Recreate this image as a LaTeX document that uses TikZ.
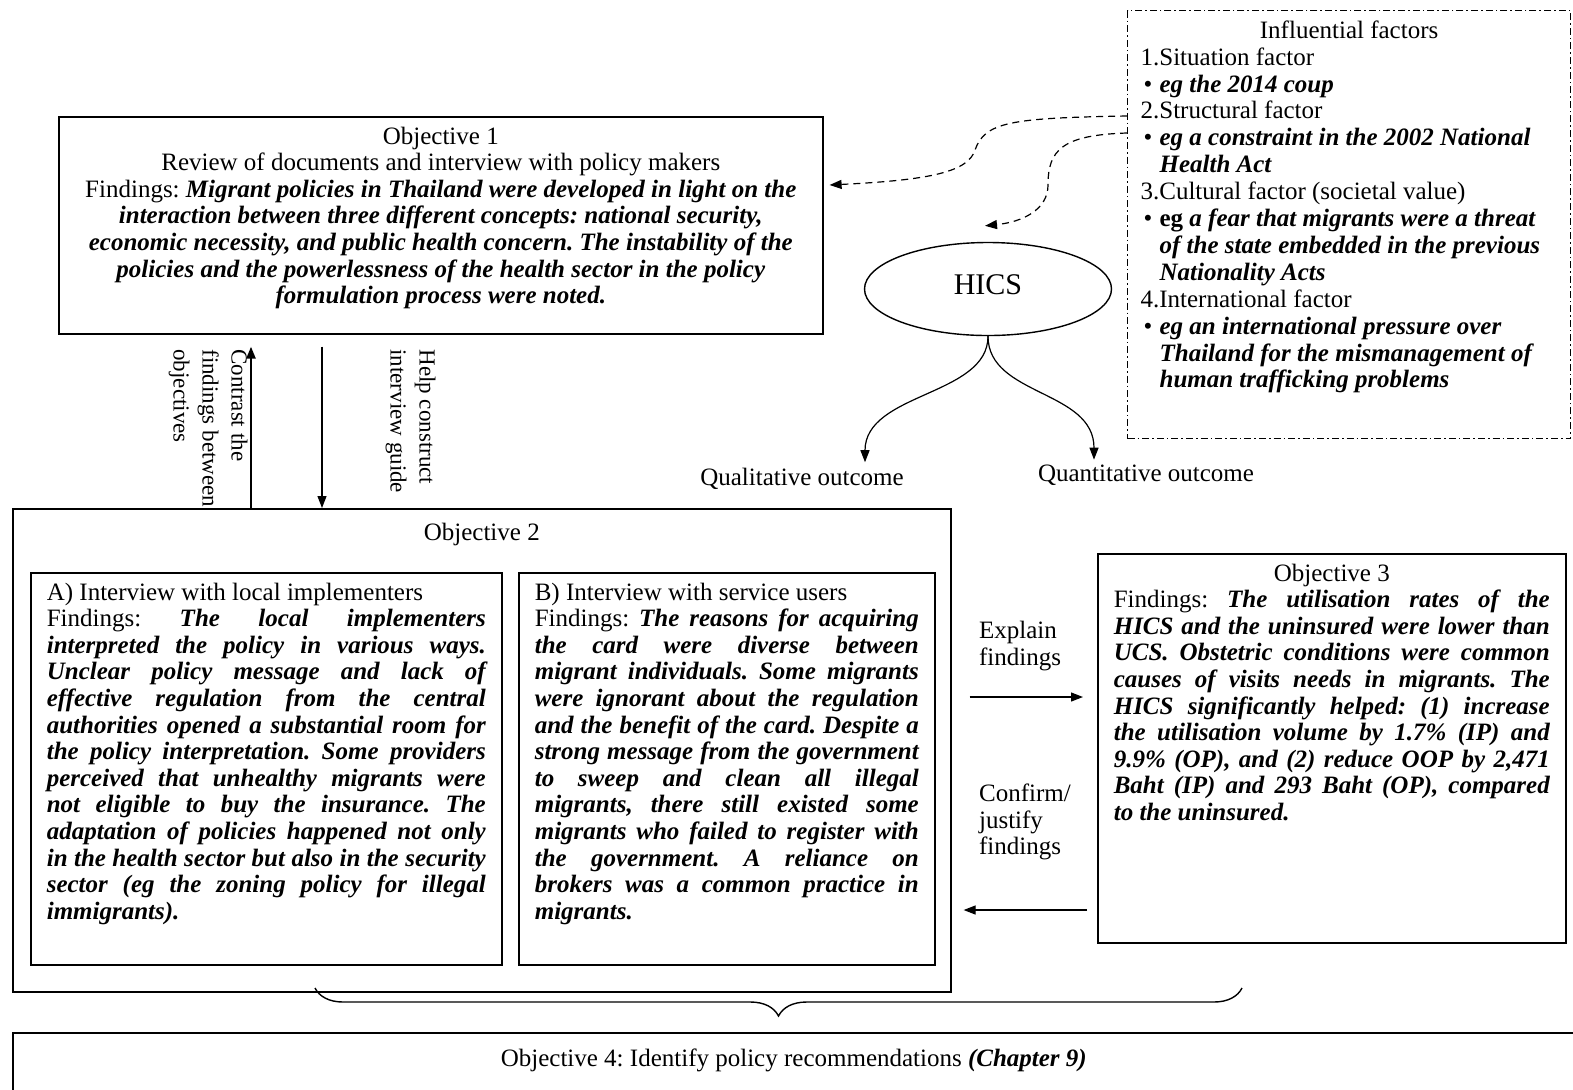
\documentclass[tikz,border=0pt]{standalone}
\usepackage{fontspec}
\setmainfont{Liberation Serif}
\usetikzlibrary{shapes.geometric, arrows.meta, decorations.pathreplacing, calc}
\frenchspacing

\newcommand{\bfit}[1]{\textbf{\textit{#1}}}
\newcommand{\fitem}[1]{\hangindent=9.5pt\hangafter=1\noindent\makebox[9.5pt][l]{\hspace{1.5pt}\textbullet}#1\par}

\tikzset{
  panel/.style={draw, line width=0.8pt, anchor=north west, inner xsep=8pt, inner ysep=5pt},
  factorbox/.style={panel, line width=0.6pt, dash pattern=on 3.5pt off 1.5pt on 0.8pt off 1.5pt, inner xsep=6.5pt},
  flow/.style={-{Triangle[length=6pt,width=4.5pt]}, line width=0.6pt},
  link/.style={flow, dash pattern=on 3.5pt off 2.5pt},
  sidenote/.style={rotate=-90, align=left, anchor=north west, inner sep=0pt, font=\fontsize{11.5}{14.5}\selectfont},
}

\begin{document}
\begin{tikzpicture}[x=0.5pt, y=-0.5pt, font=\fontsize{12.5}{13.3}\selectfont]
	\useasboundingbox (0,0) rectangle (1573,1089);
	\clip (0,0) rectangle (1573,1089);
	
	% objective boxes
	\node[panel] (obj1) at (58,116) {\parbox[c][98.5pt][t]{366pt}{\centering Objective 1\\
		Review of documents and interview with policy makers\\
		Findings: \bfit{Migrant policies in Thailand were developed in light on the\\
		interaction between three different concepts: national security,\\
		economic necessity, and public health concern. The instability of the\\
		policies and the powerlessness of the health sector in the policy\\
		formulation process were noted.}}};
	
	\node[factorbox] (infl) at (1127,10) {\parbox[c][204pt][t]{208.5pt}{\fontsize{12.5}{13.45}\selectfont
		{\centering Influential factors\par}
		\raggedright
		1.Situation factor\par
		\fitem{\bfit{eg the 2014 coup}}
		2.Structural factor\par
		\fitem{\bfit{eg a constraint in the 2002 National\newline Health Act}}
		3.Cultural factor (societal value)\par
		\fitem{\textbf{eg}\ \bfit{a fear that migrants were a threat\newline of the state embedded in the previous\newline Nationality Acts}}
		4.International factor\par
		\fitem{\bfit{eg an international pressure over\newline Thailand for the mismanagement of\newline human trafficking problems}}}};
	
	\node[ellipse, draw, line width=0.7pt, minimum width=123.5pt, minimum height=46.5pt, text depth=4pt, font=\fontsize{15}{17}\selectfont] (hics) at (988,289) {HICS};
	
	\node (qual) at (802,479) {Qualitative outcome};
	\node (quant) at (1146,475) {Quantitative outcome};
	
	\node[panel, inner ysep=7pt] (obj2) at (12,508) {\parbox[c][227.5pt][t]{453pt}{\centering Objective 2}};
	
	\node[panel] (intA) at (30,572) {\parbox[c][186pt][t]{219.5pt}{A) Interview with local implementers\\
		Findings: \bfit{The local implementers\linebreak
		interpreted the policy in various ways.\linebreak
		Unclear policy message and lack of\linebreak
		effective regulation from the central\linebreak
		authorities opened a substantial room for\linebreak
		the policy interpretation. Some providers\linebreak
		perceived that unhealthy migrants were\linebreak
		not eligible to buy the insurance. The\linebreak
		adaptation of policies happened not only\linebreak
		in the health sector but also in the security\linebreak
		sector (eg the zoning policy for illegal\linebreak
		immigrants).}}};
	
	\node[panel] (intB) at (518,572) {\parbox[c][186pt][t]{192pt}{B) Interview with service users\\
		Findings: \bfit{The reasons for acquiring\linebreak
		the card were diverse between\linebreak
		migrant individuals. Some migrants\linebreak
		were ignorant about the regulation\linebreak
		and the benefit of the card. Despite a\linebreak
		strong message from the government\linebreak
		to sweep and clean all illegal\linebreak
		migrants, there still existed some\linebreak
		migrants who failed to register with\linebreak
		the government. A reliance on\linebreak
		brokers was a common practice in\linebreak
		migrants.}}};
	
	\node[panel] (obj3) at (1097,553) {\parbox[c][184.5pt][t]{218pt}{{\centering Objective 3\par}
		Findings: \bfit{The utilisation rates of the\linebreak
		HICS and the uninsured were lower than\linebreak
		UCS. Obstetric conditions were common\linebreak
		causes of visits needs in migrants. The\linebreak
		HICS significantly helped: (1) increase\linebreak
		the utilisation volume by 1.7\% (IP) and\linebreak
		9.9\% (OP), and (2) reduce OOP by 2,471\linebreak
		Baht (IP) and 293 Baht (OP), compared\linebreak
		to the uninsured.}}};
	
	\node[panel, inner ysep=8pt] (obj4) at (12,1032) {\parbox[c][30pt][t]{765pt}{\centering Objective 4: Identify policy recommendations \bfit{(Chapter 9)}}};
	
	% labels
	\node[sidenote] (contrast) at (248,349) {Contrast the\\findings between\\objectives};
	\node[sidenote] (helpguide) at (436,349) {Help construct\\interview guide};
	\node[align=left, anchor=west] (explain) at (972,646) {Explain\\findings};
	\node[align=left, anchor=west] (confirm) at (972,822) {Confirm/\\justify\\findings};
	
	% connectors
	\draw[flow, line width=1.2pt] ($(obj2.north west)+(239,0)$) -- ($(obj1.south west)+(193,12)$);
	\draw[flow] ($(obj1.south west)+(264,12)$) -- ($(obj2.north west)+(310,0)$);
	\draw[flow] ($(obj2.north east)+(18,189)$) -- ($(obj3.north west)+(-14,144)$);
	\draw[flow] ($(obj3.north west)+(-10,357)$) -- ($(obj2.north east)+(12,402)$);
	
	\draw[link] ($(infl.north west)+(0,106)$) .. controls (1010,118) and (985,122) .. (975,150)
		.. controls (968,172) and (930,180) .. ($(obj1.north east)+(6,69)$);
	\draw[link] ($(infl.north west)+(0,123)$) .. controls (1062,135) and (1048,150) .. (1048,185)
		.. controls (1048,210) and (1022,222) .. ($(hics.north)+(-3,-16)$);
	
	\draw[flow] (hics.south) .. controls +(0,60) and +(0,-70) .. ($(qual.north)+(63,1)$);
	\draw[flow] (hics.south) .. controls +(0,60) and +(0,-70) .. ($(quant.north)+(-52,2)$);
	
	\draw[line width=0.7pt, decorate, decoration={brace, mirror, amplitude=14pt}] (315,988) -- (1242,988);

\end{tikzpicture}
\end{document}
